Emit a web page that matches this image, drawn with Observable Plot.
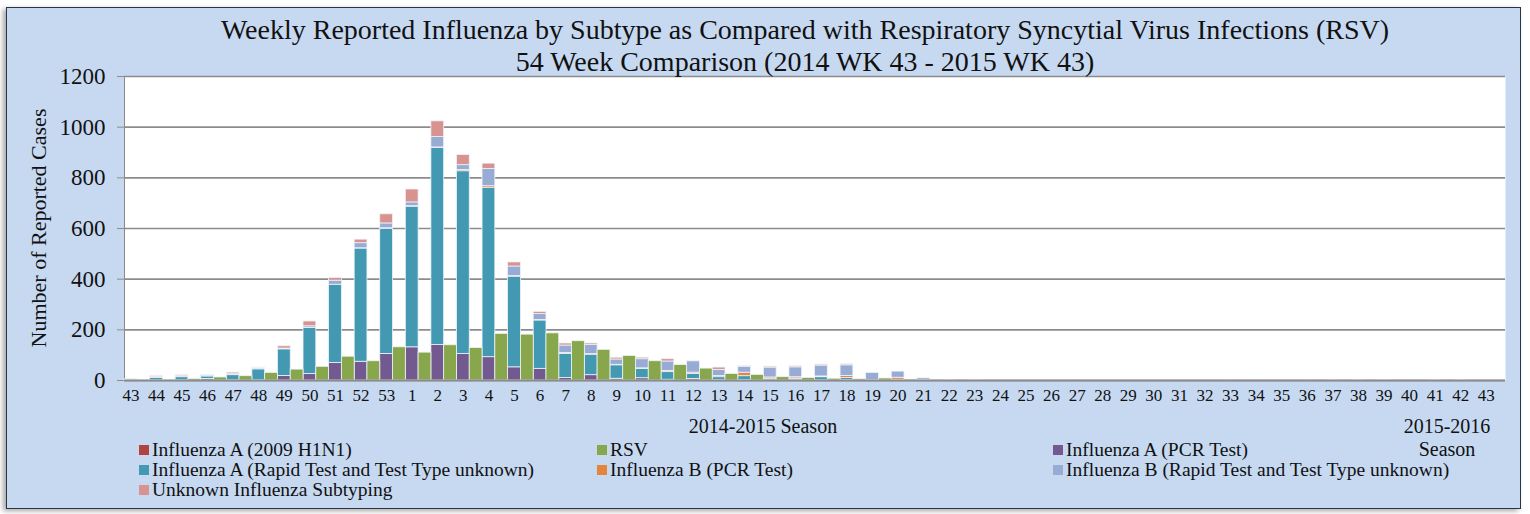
<!DOCTYPE html>
<html><head><meta charset="utf-8">
<script src="https://cdn.jsdelivr.net/npm/d3@7"></script>
<script src="https://cdn.jsdelivr.net/npm/@observablehq/plot@0.6"></script>
<style>
body{margin:0;background:#fff;}
#wrap{position:relative;width:1530px;height:514px;overflow:hidden;font-family:"Liberation Serif",serif;color:#111;}
#frame{position:absolute;left:6px;top:7px;width:1513px;height:500px;background:#C6D9F1;border:1.5px solid #2b3644;box-shadow:-3px 2px 5px rgba(0,0,0,0.35);}
#chart{position:absolute;left:0;top:0;}
.t{position:absolute;white-space:nowrap;line-height:1;}
#chart svg g[aria-label="y-axis tick"] path, #chart svg .tick line, #chart svg path.domain, #chart svg g[aria-label="y-axis line"] line {stroke:#8c8c8c;}
.lg{position:absolute;white-space:nowrap;font-size:19.5px;line-height:1;}
.lg i{display:inline-block;width:10px;height:10px;margin-right:3px;vertical-align:1px;}
</style></head>
<body>
<div id="wrap">
  <div id="frame"></div>
  <div id="chart"></div>
  <div class="t" style="left:0;width:1610px;text-align:center;top:16px;font-size:28px;">Weekly Reported Influenza by Subtype as Compared with Respiratory Syncytial Virus Infections (RSV)</div>
  <div class="t" style="left:0;width:1610px;text-align:center;top:48px;font-size:28px;">54 Week Comparison (2014 WK 43 - 2015 WK 43)</div>
  <div class="t" style="left:39px;top:228px;font-size:22px;transform:translate(-50%,-50%) rotate(-90deg);">Number of Reported Cases</div>
  <div class="t" style="left:0;width:1526px;text-align:center;top:416px;font-size:20px;">2014-2015 Season</div>
  <div class="t" style="left:1447px;top:415px;font-size:20px;transform:translateX(-50%);text-align:center;line-height:1.15;">2015-2016<br>Season</div>
  <div id="legend"></div>
</div>
<script>
// Week labels (2014 WK 43 .. 2015 WK 43)
const weeks = [43,44,45,46,47,48,49,50,51,52,53,1,2,3,4,5,6,7,8,9,10,11,12,13,14,15,16,17,18,19,20,21,22,23,24,25,26,27,28,29,30,31,32,33,34,35,36,37,38,39,40,41,42,43];
const h1n1 =           [0,0,0,0,0,0,0,0,0,0,0,0,0,0,0,0,0,0,0,0,0,0,0,0,0,0,0,0,0,0,0,0,0,0,0,0,0,0,0,0,0,0,0,0,0,0,0,0,0,0,0,0,0,0];
const fluAPcr =        [0,1,1,6,1,1,18,26,69,74,105,131,140,105,92,52,46,10,21,7,9,3,6,2,2,1,4,1,2,0,0,0,0,0,0,0,0,1,0,0,0,0,0,0,0,0,0,0,0,0,0,2,0,0];
const fluARapid =      [2,9,12,10,20,43,105,181,309,447,494,555,778,721,669,358,191,95,81,53,37,30,20,11,15,6,4,12,8,1,3,2,0,0,0,0,0,0,1,0,1,0,0,0,1,1,0,3,0,0,1,0,0,0];
const fluBPcr =        [0,0,0,0,0,0,0,1,0,1,2,2,2,5,6,2,2,4,2,2,2,5,5,5,14,5,5,3,8,0,8,0,0,0,0,0,0,0,0,0,0,0,0,0,0,0,0,0,0,0,0,0,0,0];
const fluBRapid =      [3,4,4,4,4,4,3,6,16,20,19,15,41,19,68,38,23,29,36,21,36,37,45,24,23,39,39,43,42,29,24,7,1,0,0,0,0,0,0,0,0,0,0,1,0,0,1,0,0,2,0,0,0,0];
const unknownSubtype = [0,3,4,2,6,3,9,19,11,14,36,51,62,40,21,16,9,8,6,7,6,9,2,9,2,4,4,4,4,0,0,1,1,3,0,0,0,0,0,0,0,0,0,0,0,0,0,0,2,0,0,0,2,0];
const rsv =            [2,2,6,12,17,30,43,54,94,76,131,110,139,128,184,181,186,155,121,97,76,61,47,26,22,13,10,7,5,8,4,1,0,1,0,0,0,0,0,0,0,0,1,0,1,0,0,1,1,0,1,0,1,1];
const yTicks = [0,200,400,600,800,1000,1200];

const fluNames = ["Influenza A (2009 H1N1)","Influenza A (PCR Test)","Influenza A (Rapid Test and Test Type unknown)","Influenza B (PCR Test)","Influenza B (Rapid Test and Test Type unknown)","Unknown Influenza Subtyping"];
const fluValues = [h1n1, fluAPcr, fluARapid, fluBPcr, fluBRapid, unknownSubtype];
const rsvName = "RSV";
const seriesColors = {"Influenza A (2009 H1N1)":"#B0443F","RSV":"#88A64B","Influenza A (PCR Test)":"#725A90","Influenza A (Rapid Test and Test Type unknown)":"#4399B1","Influenza B (PCR Test)":"#E5843C","Influenza B (Rapid Test and Test Type unknown)":"#97ABD5","Unknown Influenza Subtyping":"#D8928F"};
const legendOrder = ["Influenza A (2009 H1N1)","RSV","Influenza A (PCR Test)","Influenza A (Rapid Test and Test Type unknown)","Influenza B (PCR Test)","Influenza B (Rapid Test and Test Type unknown)","Unknown Influenza Subtyping"];

const slots = [];
weeks.forEach((w,i)=>{slots.push(i+"a", i+"b");});
const fluRows = [];
weeks.forEach((w,i)=>{fluNames.forEach((n,k)=>fluRows.push({slot:i+"a", series:n, value:fluValues[k][i]}));});
const rsvRows = weeks.map((w,i)=>({slot:i+"b", series:rsvName, value:rsv[i]}));
const allNames = Object.keys(seriesColors);

const chart = Plot.plot({
  width:1530, height:514,
  marginLeft:124, marginRight:25, marginTop:76, marginBottom:134,
  style:{background:"transparent", fontFamily:"Liberation Serif, serif", fontSize:"17px", color:"#111", overflow:"visible"},
  x:{type:"band", domain:slots, padding:0, tickSize:0, tickPadding:8, tickFormat:d=>d.endsWith("a")?String(weeks[parseInt(d)]):"", label:null},
  y:{domain:[0,1200], ticks:yTicks, tickSize:7, tickPadding:12, tickFormat:d=>String(d), label:null, line:true},
  color:{domain:allNames, range:allNames.map(n=>seriesColors[n])},
  marks:[
    Plot.frame({fill:"white", stroke:"none"}),
    Plot.ruleY(yTicks, {stroke:"#8c8c8c", strokeWidth:1.7}),
    Plot.barY(fluRows, {x:"slot", y:"value", fill:"series", stroke:"#eef3f8", strokeWidth:0.8}),
    Plot.barY(rsvRows, {x:"slot", y:"value", fill:"series", stroke:"#eef3f8", strokeWidth:0.8}),
    Plot.ruleY([0], {stroke:"#8c8c8c", strokeWidth:2})
  ]
});
document.getElementById("chart").appendChild(chart);
// larger y tick labels
chart.querySelectorAll('g[aria-label="y-axis tick label"] text, g[aria-label="y-axis"] text').forEach(t=>t.style.fontSize="23px");

const lg = document.getElementById("legend");
const colX = [139, 597, 1053], rowY = [440, 460, 480];
legendOrder.forEach((n,i)=>{
  const d = document.createElement("div");
  d.className="lg";
  d.style.left = colX[i%3]+"px"; d.style.top = rowY[Math.floor(i/3)]+"px";
  d.innerHTML = `<i style="background:${seriesColors[n]}"></i>`;
  d.appendChild(document.createTextNode(n));
  lg.appendChild(d);
});
</script>
</body></html>
